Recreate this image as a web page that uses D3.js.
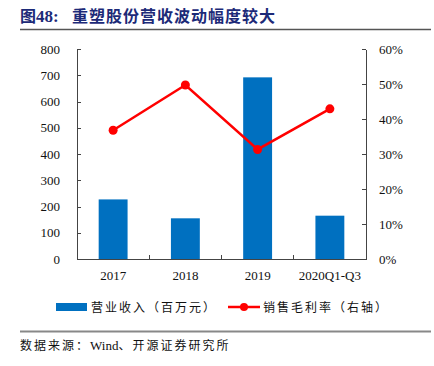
<!DOCTYPE html>
<html>
<head>
  <meta charset="utf-8">
  <title>重塑股份营收波动幅度较大</title>
  <script src="https://d3js.org/d3.v7.min.js"></script>
  <style>
    body { margin: 0; background: #fff; }
    .axis path, .axis line { stroke: #444; shape-rendering: crispEdges; }
    .axis text { font-family: "Liberation Serif", "Times New Roman", serif; font-size: 13px; fill: #111; }
    .cjk { font-family: "Noto Sans CJK SC", sans-serif; }
    .serif { font-family: "Liberation Serif", "Times New Roman", serif; }
  </style>
</head>
<body>
  <script>
    var categories = ["2017", "2018", "2019", "2020Q1-Q3"];
    var revenue = [227, 155, 692, 165];          // 营业收入（百万元）
    var grossMargin = [0.368, 0.497, 0.313, 0.429]; // 销售毛利率（右轴）
    var leftTicks = [0, 100, 200, 300, 400, 500, 600, 700, 800];
    var rightTicks = [0, 0.1, 0.2, 0.3, 0.4, 0.5, 0.6];

    var margin = {top: 49, right: 68, bottom: 107, left: 77},
        width = 434 - margin.left - margin.right,
        height = 366 - margin.top - margin.bottom;

    var svg = d3.select("body").append("svg")
        .attr("width", 434)
        .attr("height", 366);

    // title
    var title = svg.append("text")
        .attr("x", 20).attr("y", 22)
        .attr("fill", "#1c2a78")
        .attr("font-size", "16px")
        .attr("font-weight", "bold");
    title.append("tspan").attr("class", "cjk").text("图");
    title.append("tspan").attr("class", "serif").attr("font-size", "17px").text("48:");
    title.append("tspan").attr("class", "cjk").attr("x", 72).attr("letter-spacing", "1px")
        .text("重塑股份营收波动幅度较大");
    svg.append("line")
        .attr("x1", 20).attr("x2", 431).attr("y1", 29.5).attr("y2", 29.5)
        .attr("stroke", "#555").attr("stroke-width", 1.5);

    var g = svg.append("g")
        .attr("transform", "translate(" + margin.left + "," + margin.top + ")");

    var x = d3.scaleBand()
        .domain(categories)
        .range([0, width])
        .paddingInner(0.6)
        .paddingOuter(0.3);

    var xOuter = d3.scaleBand().domain(categories).range([0, width]);

    var y = d3.scaleLinear().domain([0, 800]).range([height, 0]);
    var y2 = d3.scaleLinear().domain([0, 0.6]).range([height, 0]);

    // bars
    g.selectAll(".bar")
        .data(revenue)
        .enter().append("rect")
        .attr("class", "bar")
        .attr("x", function(d, i) { return x(categories[i]); })
        .attr("width", x.bandwidth())
        .attr("y", function(d) { return y(d); })
        .attr("height", function(d) { return height - y(d); })
        .attr("fill", "#0070c0");

    // left axis
    g.append("g")
        .attr("class", "axis")
        .call(d3.axisLeft(y).tickValues(leftTicks).tickSizeInner(-4).tickSizeOuter(0).tickPadding(17));

    // right axis
    g.append("g")
        .attr("class", "axis")
        .attr("transform", "translate(" + width + ",0)")
        .call(d3.axisRight(y2).tickValues(rightTicks).tickFormat(d3.format(".0%"))
          .tickSizeInner(-4).tickSizeOuter(0).tickPadding(13));

    // bottom axis with ticks between categories
    var xAxisG = g.append("g")
        .attr("class", "axis")
        .attr("transform", "translate(0," + height + ")");
    xAxisG.append("line")
        .attr("x1", 0).attr("x2", width).attr("y1", 0).attr("y2", 0)
        .attr("stroke", "#444");
    xAxisG.selectAll(".sep")
        .data(categories.slice(1))
        .enter().append("line")
        .attr("x1", function(d) { return xOuter(d); })
        .attr("x2", function(d) { return xOuter(d); })
        .attr("y1", 0).attr("y2", -4);
    xAxisG.selectAll(".lbl")
        .data(categories)
        .enter().append("text")
        .attr("x", function(d) { return xOuter(d) + xOuter.bandwidth() / 2; })
        .attr("y", 21)
        .attr("text-anchor", "middle")
        .text(function(d) { return d; });

    // margin line
    var line = d3.line()
        .x(function(d, i) { return xOuter(categories[i]) + xOuter.bandwidth() / 2; })
        .y(function(d) { return y2(d); });

    g.append("path")
        .datum(grossMargin)
        .attr("fill", "none")
        .attr("stroke", "#ff0000")
        .attr("stroke-width", 2.5)
        .attr("d", line);

    g.selectAll(".dot")
        .data(grossMargin)
        .enter().append("circle")
        .attr("cx", function(d, i) { return xOuter(categories[i]) + xOuter.bandwidth() / 2; })
        .attr("cy", function(d) { return y2(d); })
        .attr("r", 4.5)
        .attr("fill", "#ff0000");

    // legend
    var legend = svg.append("g").attr("transform", "translate(0,307)");
    legend.append("rect")
        .attr("x", 56).attr("y", -4).attr("width", 31).attr("height", 8)
        .attr("fill", "#0070c0");
    legend.append("text")
        .attr("class", "cjk")
        .attr("x", 91).attr("y", 4.5)
        .attr("font-size", "12px").attr("letter-spacing", "2px").attr("fill", "#111")
        .text("营业收入（百万元）");
    legend.append("line")
        .attr("x1", 228).attr("x2", 260).attr("y1", 0).attr("y2", 0)
        .attr("stroke", "#ff0000").attr("stroke-width", 2.5);
    legend.append("circle")
        .attr("cx", 244).attr("cy", 0).attr("r", 4).attr("fill", "#ff0000");
    legend.append("text")
        .attr("class", "cjk")
        .attr("x", 263).attr("y", 4.5)
        .attr("font-size", "12px").attr("letter-spacing", "2px").attr("fill", "#111")
        .text("销售毛利率（右轴）");

    // source
    svg.append("line")
        .attr("x1", 20).attr("x2", 431).attr("y1", 331.5).attr("y2", 331.5)
        .attr("stroke", "#888").attr("stroke-width", 2);
    var src = svg.append("text")
        .attr("x", 20).attr("y", 350)
        .attr("font-size", "12px").attr("fill", "#111");
    src.append("tspan").attr("class", "cjk").attr("letter-spacing", "2px").text("数据来源：");
    src.append("tspan").attr("class", "serif").attr("font-size", "13px").text("Wind");
    src.append("tspan").attr("class", "cjk").attr("letter-spacing", "2px").text("、开源证券研究所");
  </script>
</body>
</html>
